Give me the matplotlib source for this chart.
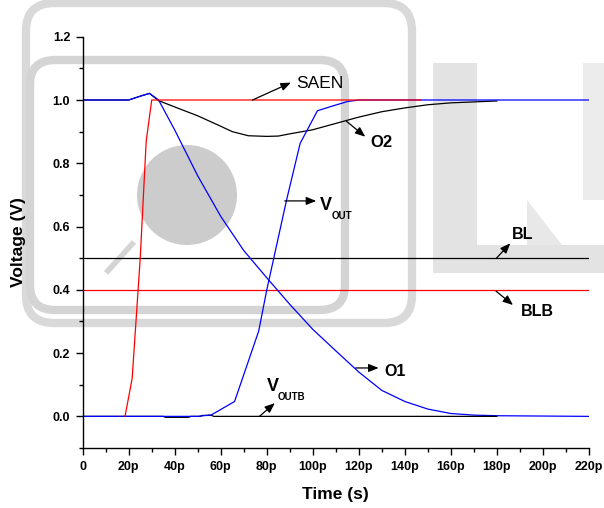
import matplotlib

matplotlib.use("Agg")
import matplotlib.pyplot as plt
from matplotlib.patches import Circle, FancyBboxPatch, Polygon, Rectangle
from matplotlib.ticker import MultipleLocator

plt.rcParams["font.family"] = ["Liberation Sans", "DejaVu Sans"]

# time in ps, voltage in V
o1_t = [0, 20, 25, 29, 33, 40, 50, 60, 70, 80, 90, 100, 110, 120, 130, 140, 150, 160, 170, 180, 220]
o1_v = [1.0, 1.0, 1.012, 1.021, 1.0, 0.905, 0.76, 0.632, 0.524, 0.438, 0.354, 0.275, 0.207, 0.14,
        0.082, 0.047, 0.023, 0.009, 0.004, 0.002, 0.0]

o2_t = [0, 20, 25, 29, 33, 40, 50, 60, 65, 72, 80, 85, 90, 100, 110, 120, 130, 140, 150, 160, 170, 180]
o2_v = [1.0, 1.0, 1.012, 1.021, 0.998, 0.978, 0.95, 0.917, 0.9, 0.887, 0.885, 0.886, 0.893, 0.906,
        0.926, 0.946, 0.963, 0.975, 0.985, 0.991, 0.994, 0.997]

vout_t = [0, 50, 56, 66, 76.5, 80, 88.6, 94.5, 102, 109, 115, 120, 220]
vout_v = [0.0, 0.0, 0.005, 0.047, 0.27, 0.4, 0.684, 0.863, 0.966, 0.982, 0.995, 1.0, 1.0]

voutb_t = [0, 35, 36, 46, 47, 51, 52, 56, 57, 180]
voutb_v = [0.0, 0.0, -0.003, -0.003, 0.0, 0.0, 0.003, 0.003, 0.0, 0.0]

saen_t = [18.4, 21.5, 25, 27.6, 30, 147]
saen_v = [0.0, 0.12, 0.5, 0.87, 1.0, 1.0]

bl_t = [0, 220]
bl_v = [0.5, 0.5]
blb_t = [0, 220]
blb_v = [0.4, 0.4]

x_ticks = [0, 20, 40, 60, 80, 100, 120, 140, 160, 180, 200, 220]
x_tick_labels = ["0", "20p", "40p", "60p", "80p", "100p", "120p", "140p", "160p", "180p", "200p", "220p"]
y_ticks = [0.0, 0.2, 0.4, 0.6, 0.8, 1.0, 1.2]
y_tick_labels = ["0.0", "0.2", "0.4", "0.6", "0.8", "1.0", "1.2"]


def draw_watermark(fig):
    # faint grey logo sitting behind the plot, in pixel coordinates
    bg = fig.add_axes([0, 0, 1, 1], zorder=-1)
    bg.set_xlim(0, 604)
    bg.set_ylim(508, 0)
    bg.axis("off")
    bg.add_patch(FancyBboxPatch((26, 3), 386, 320, boxstyle="round,pad=0,rounding_size=28",
                                fill=False, ec="#d9d9d9", lw=6))
    bg.add_patch(FancyBboxPatch((30, 60), 315, 250, boxstyle="round,pad=0,rounding_size=25",
                                fill=False, ec="#d4d4d4", lw=6))
    bg.add_patch(Circle((187, 195), 50, fc="#cccccc", ec="none"))
    bg.plot([106, 134], [273, 242], color="#d4d4d4", lw=4, solid_capstyle="butt")
    bg.add_patch(Rectangle((433, 63), 44, 210, fc="#e3e3e3", ec="none"))
    bg.add_patch(Rectangle((477, 245), 127, 28, fc="#e3e3e3", ec="none"))
    bg.add_patch(Polygon([(527, 200), (527, 245), (562, 245)], fc="#e8e8e8", ec="none"))
    bg.add_patch(Rectangle((583, 63), 21, 137, fc="#ececec", ec="none"))


def arrow(ax, start, tip):
    ax.annotate("", xy=tip, xytext=start,
                arrowprops=dict(arrowstyle="-|>,head_length=0.5,head_width=0.2", color="black",
                                lw=0.9, mutation_scale=12, shrinkA=0, shrinkB=0))


fig = plt.figure(figsize=(6.04, 5.08), dpi=100)
draw_watermark(fig)
ax = fig.add_axes([0.1369, 0.1181, 0.8382, 0.8096])
ax.set_facecolor("none")

lw = 0.9
ax.plot(bl_t, bl_v, color="black", lw=lw)
ax.plot(blb_t, blb_v, color="red", lw=lw)
ax.plot(o2_t, o2_v, color="black", lw=lw)
ax.plot(o1_t, o1_v, color="blue", lw=lw)
ax.plot(voutb_t, voutb_v, color="black", lw=lw)
ax.plot(vout_t, vout_v, color="blue", lw=lw)
ax.plot(saen_t, saen_v, color="red", lw=lw)

ax.set_xlim(0, 220)
ax.set_ylim(-0.1, 1.2)
ax.set_xticks(x_ticks)
ax.set_xticklabels(x_tick_labels)
ax.set_yticks(y_ticks)
ax.set_yticklabels(y_tick_labels)
ax.xaxis.set_minor_locator(MultipleLocator(10))
ax.yaxis.set_minor_locator(MultipleLocator(0.1))
ax.tick_params(which="major", direction="out", length=5, width=1, pad=4, labelsize=9)
ax.tick_params(which="minor", direction="out", length=3, width=1)
for label in ax.get_xticklabels() + ax.get_yticklabels():
    label.set_fontweight("bold")
for side in ("top", "right"):
    ax.spines[side].set_visible(False)
for side in ("left", "bottom"):
    ax.spines[side].set_linewidth(1.0)

ax.set_xlabel("Time (s)", fontsize=12.5, fontweight="bold")
ax.set_ylabel("Voltage (V)", fontsize=12.5, fontweight="bold")
ax.xaxis.set_label_coords(0.5, -0.095)
ax.yaxis.set_label_coords(-0.112, 0.5)

# curve labels with pointer arrows
arrow(ax, (73.8, 1.0), (90.5, 1.055))
ax.text(92.8, 1.052, "SAEN", fontsize=12.5, ha="left", va="center")
arrow(ax, (114.6, 0.933), (122.8, 0.884))
ax.text(125, 0.866, "O2", fontsize=12, fontweight="bold", ha="left", va="center")
arrow(ax, (87.8, 0.681), (101.5, 0.681))
ax.text(103.1, 0.668, "V", fontsize=13, fontweight="bold", ha="left", va="center")
ax.text(108.1, 0.633, "OUT", fontsize=7, fontweight="bold", ha="left", va="center")
arrow(ax, (179.8, 0.5), (185.8, 0.547))
ax.text(186.5, 0.574, "BL", fontsize=11.5, fontweight="bold", ha="left", va="center")
arrow(ax, (179.6, 0.396), (187, 0.352))
ax.text(190.2, 0.33, "BLB", fontsize=11.5, fontweight="bold", ha="left", va="center")
arrow(ax, (118.6, 0.153), (128.6, 0.153))
ax.text(131.2, 0.142, "O1", fontsize=11.5, fontweight="bold", ha="left", va="center")
arrow(ax, (76.8, 0.0), (83.5, 0.042))
ax.text(80.1, 0.095, "V", fontsize=13, fontweight="bold", ha="left", va="center")
ax.text(84.9, 0.062, "OUTB", fontsize=7, fontweight="bold", ha="left", va="center")

fig.savefig("out.png", dpi=100)
plt.close(fig)
